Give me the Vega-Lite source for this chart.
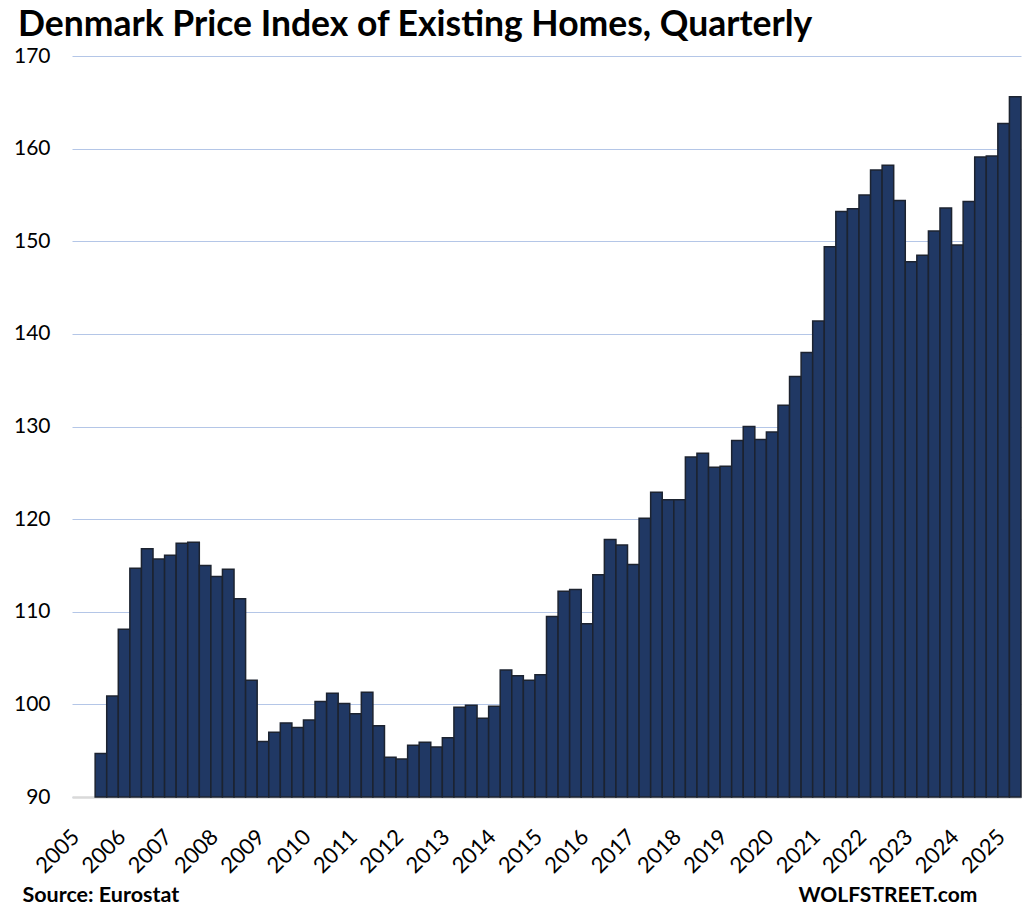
{
  "$schema": "https://vega.github.io/schema/vega-lite/v6.json",
  "autosize": {"type": "none"},
  "width": 949,
  "height": 741,
  "padding": {"left": 72, "top": 56, "right": 12, "bottom": 111},
  "background": "white",
  "config": {"view": {"stroke": null}, "font": "Lato"},
  "title": {
    "text": "Denmark Price Index of Existing Homes, Quarterly",
    "anchor": "start",
    "frame": "group",
    "dx": -54,
    "dy": 34,
    "offset": 8,
    "baseline": "alphabetic",
    "font": "Lato",
    "fontSize": 35.5,
    "fontWeight": "bold",
    "color": "black"
  },
  "data": {
    "values": [
      {"q": "2005-Q3", "v": 94.7}, {"q": "2005-Q4", "v": 100.9},
      {"q": "2006-Q1", "v": 108.1}, {"q": "2006-Q2", "v": 114.7}, {"q": "2006-Q3", "v": 116.8}, {"q": "2006-Q4", "v": 115.7},
      {"q": "2007-Q1", "v": 116.1}, {"q": "2007-Q2", "v": 117.4}, {"q": "2007-Q3", "v": 117.5}, {"q": "2007-Q4", "v": 115.0},
      {"q": "2008-Q1", "v": 113.8}, {"q": "2008-Q2", "v": 114.6}, {"q": "2008-Q3", "v": 111.4}, {"q": "2008-Q4", "v": 102.6},
      {"q": "2009-Q1", "v": 96.0}, {"q": "2009-Q2", "v": 97.0}, {"q": "2009-Q3", "v": 98.0}, {"q": "2009-Q4", "v": 97.5},
      {"q": "2010-Q1", "v": 98.3}, {"q": "2010-Q2", "v": 100.3}, {"q": "2010-Q3", "v": 101.2}, {"q": "2010-Q4", "v": 100.1},
      {"q": "2011-Q1", "v": 99.0}, {"q": "2011-Q2", "v": 101.3}, {"q": "2011-Q3", "v": 97.7}, {"q": "2011-Q4", "v": 94.3},
      {"q": "2012-Q1", "v": 94.1}, {"q": "2012-Q2", "v": 95.6}, {"q": "2012-Q3", "v": 95.9}, {"q": "2012-Q4", "v": 95.4},
      {"q": "2013-Q1", "v": 96.4}, {"q": "2013-Q2", "v": 99.7}, {"q": "2013-Q3", "v": 99.9}, {"q": "2013-Q4", "v": 98.5},
      {"q": "2014-Q1", "v": 99.8}, {"q": "2014-Q2", "v": 103.7}, {"q": "2014-Q3", "v": 103.1}, {"q": "2014-Q4", "v": 102.6},
      {"q": "2015-Q1", "v": 103.2}, {"q": "2015-Q2", "v": 109.5}, {"q": "2015-Q3", "v": 112.2}, {"q": "2015-Q4", "v": 112.4},
      {"q": "2016-Q1", "v": 108.7}, {"q": "2016-Q2", "v": 114.0}, {"q": "2016-Q3", "v": 117.8}, {"q": "2016-Q4", "v": 117.2},
      {"q": "2017-Q1", "v": 115.1}, {"q": "2017-Q2", "v": 120.1}, {"q": "2017-Q3", "v": 122.9}, {"q": "2017-Q4", "v": 122.1},
      {"q": "2018-Q1", "v": 122.1}, {"q": "2018-Q2", "v": 126.7}, {"q": "2018-Q3", "v": 127.1}, {"q": "2018-Q4", "v": 125.6},
      {"q": "2019-Q1", "v": 125.7}, {"q": "2019-Q2", "v": 128.5}, {"q": "2019-Q3", "v": 130.0}, {"q": "2019-Q4", "v": 128.6},
      {"q": "2020-Q1", "v": 129.4}, {"q": "2020-Q2", "v": 132.3}, {"q": "2020-Q3", "v": 135.4}, {"q": "2020-Q4", "v": 138.0},
      {"q": "2021-Q1", "v": 141.4}, {"q": "2021-Q2", "v": 149.4}, {"q": "2021-Q3", "v": 153.2}, {"q": "2021-Q4", "v": 153.5},
      {"q": "2022-Q1", "v": 155.0}, {"q": "2022-Q2", "v": 157.7}, {"q": "2022-Q3", "v": 158.2}, {"q": "2022-Q4", "v": 154.4},
      {"q": "2023-Q1", "v": 147.8}, {"q": "2023-Q2", "v": 148.5}, {"q": "2023-Q3", "v": 151.1}, {"q": "2023-Q4", "v": 153.6},
      {"q": "2024-Q1", "v": 149.6}, {"q": "2024-Q2", "v": 154.3}, {"q": "2024-Q3", "v": 159.1}, {"q": "2024-Q4", "v": 159.2},
      {"q": "2025-Q1", "v": 162.7}, {"q": "2025-Q2", "v": 165.6}
    ]
  },
  "mark": {"type": "bar", "fill": "#203864", "stroke": "#1c2330", "strokeWidth": 1.5},
  "encoding": {
    "x": {
      "field": "q",
      "type": "ordinal",
      "sort": null,
      "scale": {
        "paddingInner": 0,
        "paddingOuter": 0,
        "domain": [
          "2005-Q1","2005-Q2","2005-Q3","2005-Q4",
          "2006-Q1","2006-Q2","2006-Q3","2006-Q4",
          "2007-Q1","2007-Q2","2007-Q3","2007-Q4",
          "2008-Q1","2008-Q2","2008-Q3","2008-Q4",
          "2009-Q1","2009-Q2","2009-Q3","2009-Q4",
          "2010-Q1","2010-Q2","2010-Q3","2010-Q4",
          "2011-Q1","2011-Q2","2011-Q3","2011-Q4",
          "2012-Q1","2012-Q2","2012-Q3","2012-Q4",
          "2013-Q1","2013-Q2","2013-Q3","2013-Q4",
          "2014-Q1","2014-Q2","2014-Q3","2014-Q4",
          "2015-Q1","2015-Q2","2015-Q3","2015-Q4",
          "2016-Q1","2016-Q2","2016-Q3","2016-Q4",
          "2017-Q1","2017-Q2","2017-Q3","2017-Q4",
          "2018-Q1","2018-Q2","2018-Q3","2018-Q4",
          "2019-Q1","2019-Q2","2019-Q3","2019-Q4",
          "2020-Q1","2020-Q2","2020-Q3","2020-Q4",
          "2021-Q1","2021-Q2","2021-Q3","2021-Q4",
          "2022-Q1","2022-Q2","2022-Q3","2022-Q4",
          "2023-Q1","2023-Q2","2023-Q3","2023-Q4",
          "2024-Q1","2024-Q2","2024-Q3","2024-Q4",
          "2025-Q1","2025-Q2"
        ]
      },
      "axis": {
        "title": "Source: Eurostat",
        "titleX": -50,
        "titleY": 104,
        "titleAngle": 0,
        "titleAlign": "left",
        "titleBaseline": "alphabetic",
        "titleFont": "Lato",
        "titleFontSize": 21.5,
        "titleFontWeight": "bold",
        "titleColor": "black",
        "labelExpr": "slice(datum.value, 5) == 'Q1' ? slice(datum.value, 0, 4) : ''",
        "labelAngle": -45,
        "labelAlign": "right",
        "labelBaseline": "middle",
        "labelPadding": 36,
        "labelOffset": -2,
        "labelFont": "Lato",
        "labelFontSize": 22,
        "labelColor": "black",
        "labelOverlap": false,
        "ticks": false,
        "domainColor": "#d9d9d9",
        "domainWidth": 2.5
      }
    },
    "y": {
      "field": "v",
      "type": "quantitative",
      "scale": {"domain": [90, 170], "nice": false, "zero": false},
      "axis": {
        "title": "WOLFSTREET.com",
        "titleX": 726,
        "titleY": 845,
        "titleAngle": 0,
        "titleAlign": "left",
        "titleBaseline": "alphabetic",
        "titleFont": "Lato",
        "titleFontSize": 21,
        "titleFontWeight": "bold",
        "titleColor": "black",
        "values": [90, 100, 110, 120, 130, 140, 150, 160, 170],
        "labelFont": "Lato",
        "labelFontSize": 21,
        "labelColor": "black",
        "labelPadding": 22,
        "ticks": false,
        "domain": false,
        "gridColor": "#b4c6e7",
        "gridWidth": 1,
        "gridOpacity": 1
      }
    },
    "y2": {"datum": 90}
  }
}
